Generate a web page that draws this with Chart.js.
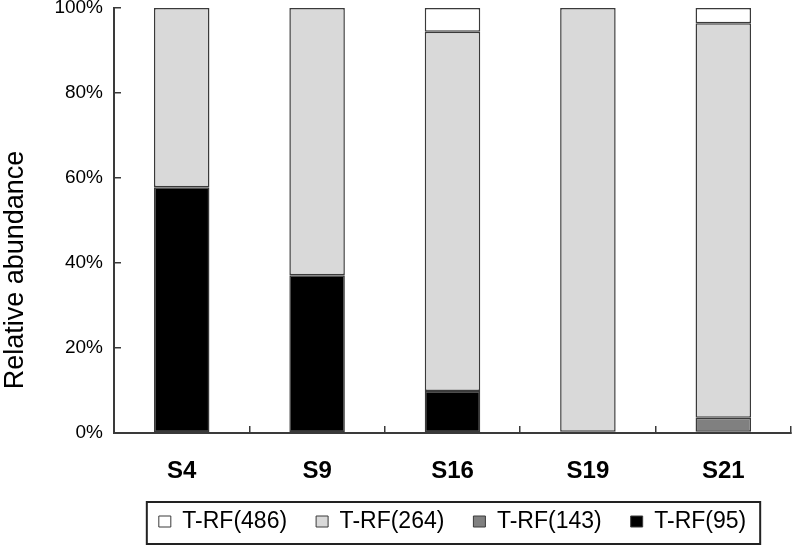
<!DOCTYPE html>
<html>
<head>
<meta charset="utf-8">
<title>Relative abundance of T-RFs</title>
<script src="https://cdn.jsdelivr.net/npm/chart.js@4.4.1/dist/chart.umd.min.js"></script>
<style>
    html, body { margin: 0; padding: 0; background: #fff; }
    #wrap { width: 793px; height: 545px; }
</style>
</head>
<body>
<div id="wrap"><canvas id="abundanceChart"></canvas></div>
<script>
// Data (percent of each sample)
const samples = ['S4', 'S9', 'S16', 'S19', 'S21'];
const trf95  = [57.8, 37.1, 9.9, 0.3, 0.3];
const trf143 = [0, 0, 0, 0, 3.3];
const trf264 = [42.2, 62.9, 84.5, 99.7, 92.8];
const trf486 = [0, 0, 5.6, 0, 3.6];
const yTicks = [0, 20, 40, 60, 80, 100];
const yTitle = 'Relative abundance';

const FONT = "'Liberation Sans', Arial, sans-serif";
const EDGE = '#3a3a3a';

// frame round the legend row
const legendBorder = {
    id: 'legendBorder',
    afterDraw(chart) {
        const boxes = chart.legend && chart.legend.legendHitBoxes;
        if (!boxes || !boxes.length) return;
        const first = boxes[0];
        const last = boxes[boxes.length - 1];
        const ctx = chart.ctx;
        ctx.save();
        ctx.strokeStyle = '#222';
        ctx.lineWidth = 2;
        ctx.strokeRect(first.left - 12, first.top - 8,
            last.left + last.width - first.left + 26, first.height + 19);
        ctx.restore();
    }
};

// y axis title, sitting a bit below the middle of the axis like in the original
const axisTitle = {
    id: 'axisTitle',
    afterDraw(chart) {
        const area = chart.chartArea;
        const ctx = chart.ctx;
        ctx.save();
        ctx.translate(16, area.bottom - 163);
        ctx.rotate(-Math.PI / 2);
        ctx.font = '27px ' + FONT;
        ctx.fillStyle = '#000';
        ctx.textAlign = 'center';
        ctx.textBaseline = 'middle';
        ctx.fillText(yTitle, 0, 0);
        ctx.restore();
    }
};

function bar(label, data, color) {
    return {
        label: label,
        data: data,
        backgroundColor: color,
        borderColor: EDGE,
        borderWidth: 1.5,
        borderSkipped: false,
        barPercentage: 0.41,
        categoryPercentage: 1
    };
}

const ctx = document.getElementById('abundanceChart').getContext('2d');
new Chart(ctx, {
    type: 'bar',
    data: {
        labels: samples,
        datasets: [
            bar('T-RF(95)', trf95, '#000000'),
            bar('T-RF(143)', trf143, '#808080'),
            bar('T-RF(264)', trf264, '#d9d9d9'),
            bar('T-RF(486)', trf486, '#ffffff')
        ]
    },
    options: {
        responsive: true,
        maintainAspectRatio: false,
        animation: false,
        layout: { padding: { top: 8, right: 2, bottom: 2, left: 0 } },
        font: { family: FONT },
        plugins: {
            tooltip: { enabled: false },
            legend: {
                position: 'bottom',
                fullSize: false,
                reverse: true,
                labels: {
                    boxWidth: 12,
                    boxHeight: 11,
                    padding: 29,
                    color: '#000',
                    font: { family: FONT, size: 23 },
                    generateLabels(chart) {
                        const items = Chart.defaults.plugins.legend.labels.generateLabels(chart);
                        items.forEach(i => { i.lineWidth = 1; });
                        return items;
                    }
                }
            }
        },
        scales: {
            x: {
                stacked: true,
                border: { color: EDGE, width: 2 },
                grid: { drawOnChartArea: false, tickLength: -7, color: EDGE, lineWidth: 1.5, offset: true },
                ticks: { padding: 31, color: '#000', font: { family: FONT, size: 24, weight: 'bold' } },
                afterFit(scale) { scale.height = 48; }
            },
            y: {
                stacked: true,
                min: 0,
                max: 100,
                border: { color: EDGE, width: 2 },
                grid: { drawOnChartArea: false, tickLength: -7, color: EDGE, lineWidth: 1.5 },
                ticks: {
                    padding: 18,
                    color: '#000',
                    font: { family: FONT, size: 19 },
                    callback: v => v + '%'
                },
                afterBuildTicks(scale) {
                    scale.ticks = yTicks.map(v => ({ value: v }));
                },
                afterFit(scale) {
                    scale.width = 114;
                    scale.paddingTop = 0;
                    scale.paddingBottom = 0;
                }
            }
        }
    },
    plugins: [legendBorder, axisTitle]
});
</script>
</body>
</html>
